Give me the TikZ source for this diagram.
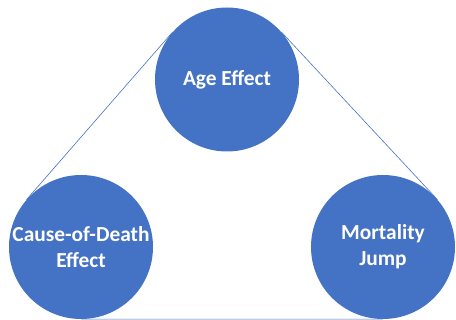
\documentclass[tikz,border=0pt]{standalone}
\usepackage{fontspec}
\setmainfont{Carlito}
\usetikzlibrary{positioning, backgrounds}
\definecolor{effblue}{HTML}{4472C4}
\tikzset{
effect/.style={circle, fill=effblue, text=white, minimum size=144pt, inner sep=0pt,
  align=center, font=\fontsize{21.4}{26}\selectfont\bfseries}, % the three blue discs
hull/.style={draw=effblue, line width=0.6pt}, % thin outline between the discs
}

\begin{document}
\begin{tikzpicture}
    \useasboundingbox (0,0) rectangle (456pt,-320pt);
    \node[effect] (age) at (227pt,-79.5pt) {Age Effect};
    \node[effect, on grid, below left=167.5pt and 146pt of age] (cause) {Cause-of-Death\\Effect};
    \node[effect, on grid, below right=167.5pt and 156pt of age] (jump) {Mortality\\Jump};
    \begin{scope}[on background layer]
    \draw[hull]
        (age.139) -- (cause.139)
        (age.41) -- (jump.41)
        (cause.270) -- (jump.270)
        ;
    \end{scope}
\end{tikzpicture}
\end{document}
